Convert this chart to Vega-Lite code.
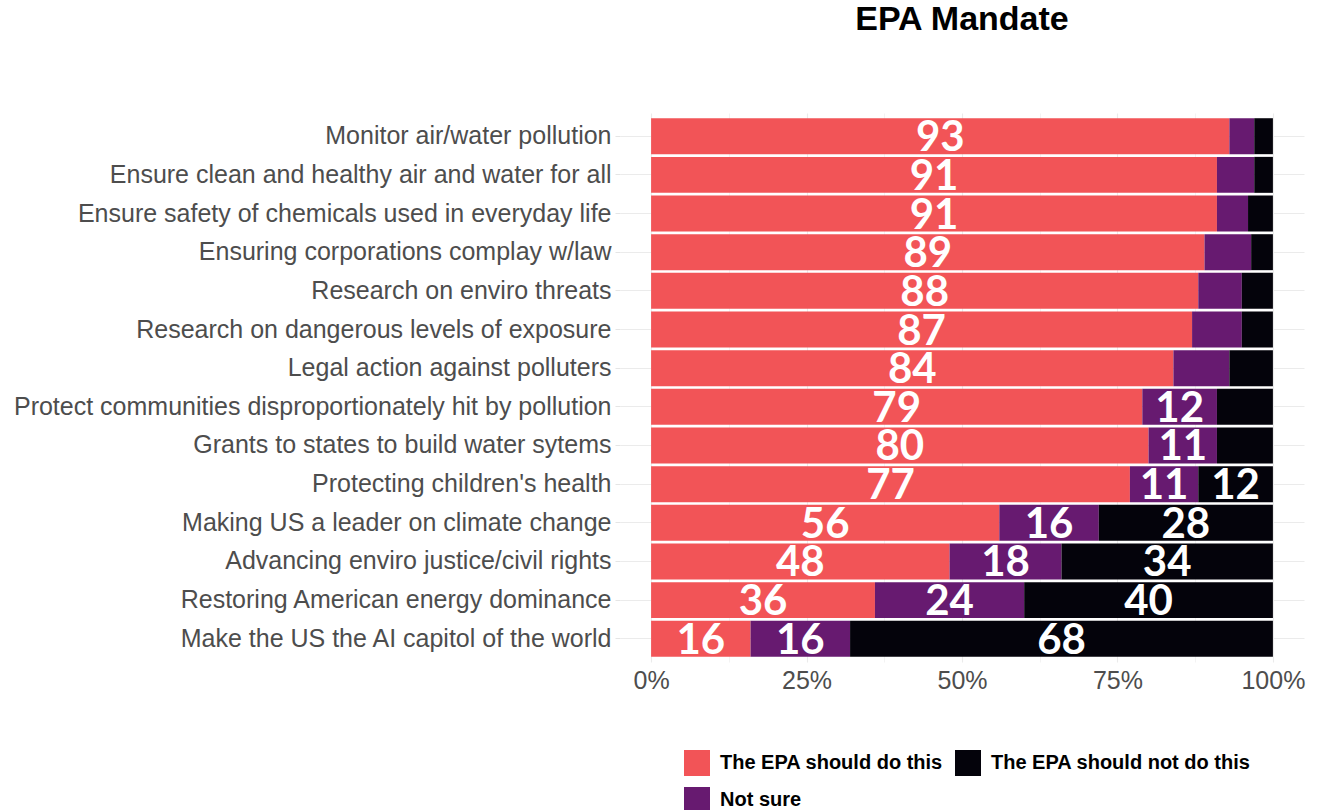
{
  "$schema": "https://vega.github.io/schema/vega-lite/v6.json",
  "width": 684,
  "height": 549,
  "autosize": {"type": "none"},
  "padding": {"left": 620, "top": 113, "right": 14, "bottom": 148},
  "background": "white",
  "title": {
    "text": "EPA Mandate",
    "font": "Liberation Sans",
    "fontSize": 34,
    "fontWeight": "bold",
    "color": "#000000",
    "anchor": "middle",
    "frame": "group",
    "offset": 76
  },
  "data": {
    "values": [
      {"task": "Monitor air/water pollution", "response": "The EPA should do this", "ord": 1, "value": 93},
      {"task": "Monitor air/water pollution", "response": "Not sure", "ord": 2, "value": 4},
      {"task": "Monitor air/water pollution", "response": "The EPA should not do this", "ord": 3, "value": 3},
      {"task": "Ensure clean and healthy air and water for all", "response": "The EPA should do this", "ord": 1, "value": 91},
      {"task": "Ensure clean and healthy air and water for all", "response": "Not sure", "ord": 2, "value": 6},
      {"task": "Ensure clean and healthy air and water for all", "response": "The EPA should not do this", "ord": 3, "value": 3},
      {"task": "Ensure safety of chemicals used in everyday life", "response": "The EPA should do this", "ord": 1, "value": 91},
      {"task": "Ensure safety of chemicals used in everyday life", "response": "Not sure", "ord": 2, "value": 5},
      {"task": "Ensure safety of chemicals used in everyday life", "response": "The EPA should not do this", "ord": 3, "value": 4},
      {"task": "Ensuring corporations complay w/law", "response": "The EPA should do this", "ord": 1, "value": 89},
      {"task": "Ensuring corporations complay w/law", "response": "Not sure", "ord": 2, "value": 7.5},
      {"task": "Ensuring corporations complay w/law", "response": "The EPA should not do this", "ord": 3, "value": 3.5},
      {"task": "Research on enviro threats", "response": "The EPA should do this", "ord": 1, "value": 88},
      {"task": "Research on enviro threats", "response": "Not sure", "ord": 2, "value": 7},
      {"task": "Research on enviro threats", "response": "The EPA should not do this", "ord": 3, "value": 5},
      {"task": "Research on dangerous levels of exposure", "response": "The EPA should do this", "ord": 1, "value": 87},
      {"task": "Research on dangerous levels of exposure", "response": "Not sure", "ord": 2, "value": 8},
      {"task": "Research on dangerous levels of exposure", "response": "The EPA should not do this", "ord": 3, "value": 5},
      {"task": "Legal action against polluters", "response": "The EPA should do this", "ord": 1, "value": 84},
      {"task": "Legal action against polluters", "response": "Not sure", "ord": 2, "value": 9},
      {"task": "Legal action against polluters", "response": "The EPA should not do this", "ord": 3, "value": 7},
      {"task": "Protect communities disproportionately hit by pollution", "response": "The EPA should do this", "ord": 1, "value": 79},
      {"task": "Protect communities disproportionately hit by pollution", "response": "Not sure", "ord": 2, "value": 12},
      {"task": "Protect communities disproportionately hit by pollution", "response": "The EPA should not do this", "ord": 3, "value": 9},
      {"task": "Grants to states to build water sytems", "response": "The EPA should do this", "ord": 1, "value": 80},
      {"task": "Grants to states to build water sytems", "response": "Not sure", "ord": 2, "value": 11},
      {"task": "Grants to states to build water sytems", "response": "The EPA should not do this", "ord": 3, "value": 9},
      {"task": "Protecting children's health", "response": "The EPA should do this", "ord": 1, "value": 77},
      {"task": "Protecting children's health", "response": "Not sure", "ord": 2, "value": 11},
      {"task": "Protecting children's health", "response": "The EPA should not do this", "ord": 3, "value": 12},
      {"task": "Making US a leader on climate change", "response": "The EPA should do this", "ord": 1, "value": 56},
      {"task": "Making US a leader on climate change", "response": "Not sure", "ord": 2, "value": 16},
      {"task": "Making US a leader on climate change", "response": "The EPA should not do this", "ord": 3, "value": 28},
      {"task": "Advancing enviro justice/civil rights", "response": "The EPA should do this", "ord": 1, "value": 48},
      {"task": "Advancing enviro justice/civil rights", "response": "Not sure", "ord": 2, "value": 18},
      {"task": "Advancing enviro justice/civil rights", "response": "The EPA should not do this", "ord": 3, "value": 34},
      {"task": "Restoring American energy dominance", "response": "The EPA should do this", "ord": 1, "value": 36},
      {"task": "Restoring American energy dominance", "response": "Not sure", "ord": 2, "value": 24},
      {"task": "Restoring American energy dominance", "response": "The EPA should not do this", "ord": 3, "value": 40},
      {"task": "Make the US the AI capitol of the world", "response": "The EPA should do this", "ord": 1, "value": 16},
      {"task": "Make the US the AI capitol of the world", "response": "Not sure", "ord": 2, "value": 16},
      {"task": "Make the US the AI capitol of the world", "response": "The EPA should not do this", "ord": 3, "value": 68}
    ]
  },
  "transform": [
    {"stack": "value", "groupby": ["task"], "sort": [{"field": "ord"}], "as": ["x0", "x1"]}
  ],
  "encoding": {
    "y": {
      "field": "task",
      "type": "nominal",
      "sort": null,
      "scale": {"paddingInner": 0.07, "paddingOuter": 0.135},
      "axis": {
        "title": null,
        "domain": false,
        "ticks": true,
        "tickColor": "#e5e5e5",
        "tickSize": 5,
        "grid": true,
        "gridColor": "#ebebeb",
        "labelFont": "Liberation Sans",
        "labelFontSize": 25,
        "labelColor": "#4d4d4d",
        "labelPadding": 4,
        "labelLimit": 700
      }
    }
  },
  "layer": [
    {
      "mark": {"type": "bar"},
      "encoding": {
        "x": {
          "field": "x0",
          "type": "quantitative",
          "scale": {"domain": [-5, 105], "nice": false, "zero": false},
          "axis": {
            "title": null,
            "values": [0, 12.5, 25, 37.5, 50, 62.5, 75, 87.5, 100],
            "labelExpr": "datum.value % 25 === 0 ? datum.value + '%' : ''",
            "domain": false,
            "ticks": false,
            "grid": true,
            "gridColor": "#ebebeb",
            "gridWidth": {"condition": {"test": "datum.value % 25 === 0", "value": 1.1}, "value": 0.6},
            "labelFont": "Liberation Sans",
            "labelFontSize": 25,
            "labelColor": "#4d4d4d",
            "labelPadding": 6,
            "labelFlush": false
          }
        },
        "x2": {"field": "x1"},
        "color": {
          "field": "response",
          "type": "nominal",
          "scale": {
            "domain": ["The EPA should do this", "Not sure", "The EPA should not do this"],
            "range": ["#F25457", "#671A70", "#04030B"]
          },
          "legend": {
            "title": null,
            "orient": "none",
            "legendX": 64,
            "legendY": 637,
            "columns": 2,
            "columnPadding": 12,
            "rowPadding": 11,
            "padding": 0,
            "symbolType": "square",
            "symbolSize": 676,
            "symbolStrokeWidth": 0,
            "symbolOpacity": 1,
            "labelFont": "Liberation Sans",
            "labelFontSize": 20,
            "labelFontWeight": "bold",
            "labelColor": "#000000",
            "labelOffset": 10,
            "labelLimit": 400
          }
        }
      }
    },
    {
      "transform": [
        {"filter": "datum.value >= 10"},
        {"fold": ["x0", "x1"], "as": ["edge", "pos"]},
        {"aggregate": [{"op": "mean", "field": "pos", "as": "mid"}], "groupby": ["task", "response", "value"]}
      ],
      "mark": {
        "type": "text",
        "font": "Lato",
        "fontWeight": "bold",
        "fontSize": 42,
        "color": "white",
        "baseline": "middle",
        "align": "center",
        "dy": 2
      },
      "encoding": {
        "x": {"field": "mid", "type": "quantitative"},
        "text": {"field": "value", "type": "quantitative"}
      }
    }
  ],
  "config": {
    "view": {"stroke": null}
  }
}
